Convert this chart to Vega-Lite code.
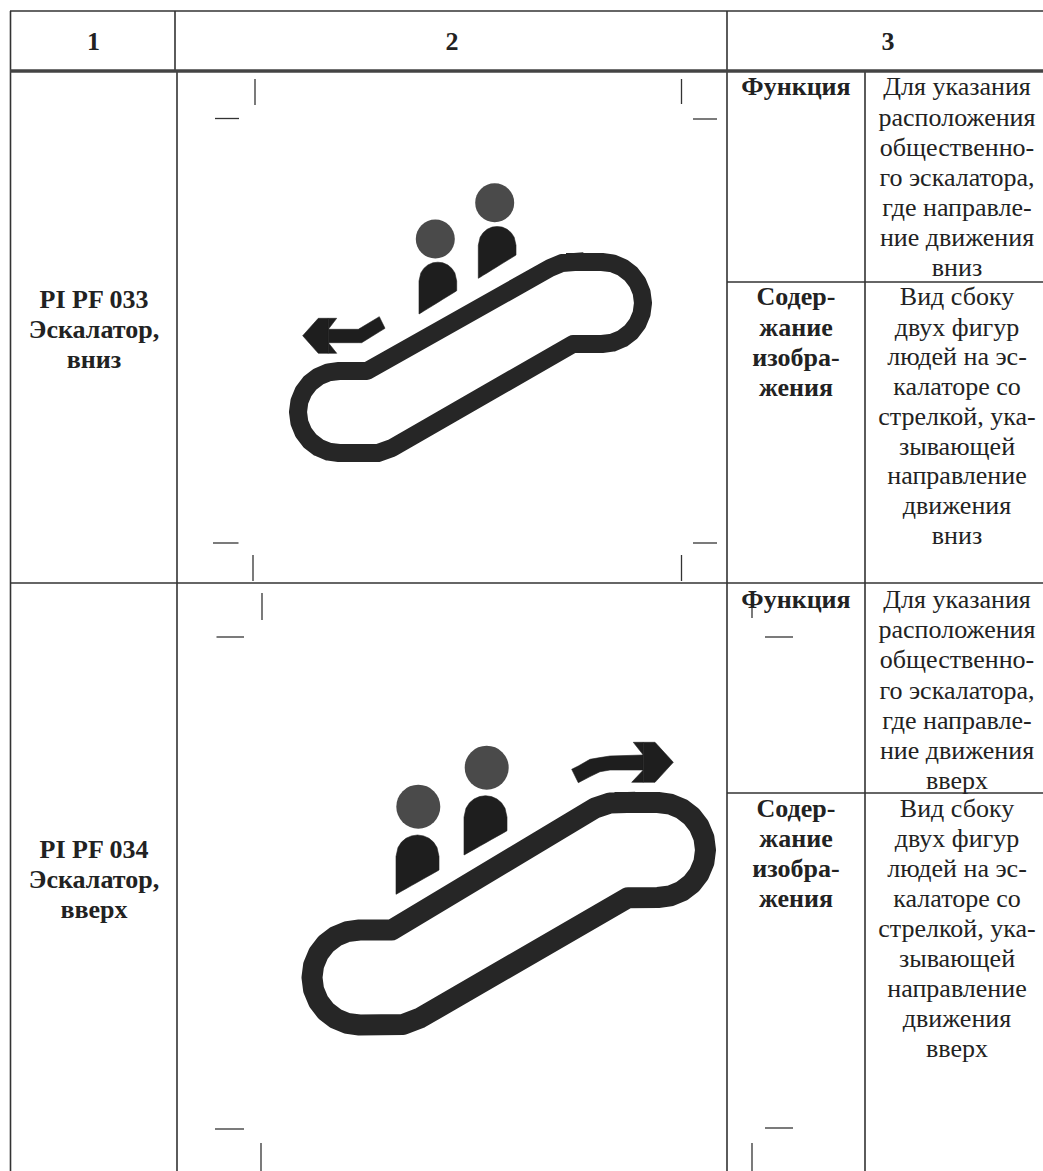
{"$schema":"https://vega.github.io/schema/vega-lite/v6.json","width":1043,"height":1171,"autosize":"none","padding":0,"background":"white","view":{"stroke":null},
"datasets":{
"grid":[{"x":10,"y":11,"x2":1043,"y2":11},{"x":10.5,"y":11,"x2":10.5,"y2":1171},{"x":175,"y":11,"x2":175,"y2":70},{"x":177,"y":71,"x2":177,"y2":1171},{"x":727,"y":11,"x2":727,"y2":1171},{"x":865,"y":71,"x2":865,"y2":1171},{"x":10,"y":583,"x2":1043,"y2":583},{"x":727,"y":282,"x2":1043,"y2":282},{"x":727,"y":793,"x2":1043,"y2":793}],
"thick":[{"x":10,"y":71,"x2":1043,"y2":71}],
"crop":[{"x":255,"y":79,"x2":255,"y2":105},{"x":215,"y":118.5,"x2":239,"y2":118.5},{"x":681.5,"y":79,"x2":681.5,"y2":104},{"x":693,"y":119,"x2":717,"y2":119},{"x":213,"y":543,"x2":238.5,"y2":543},{"x":253,"y":555,"x2":253,"y2":581},{"x":693,"y":543,"x2":717,"y2":543},{"x":681.5,"y":555,"x2":681.5,"y2":581},{"x":262,"y":593,"x2":262,"y2":620},{"x":216.5,"y":637,"x2":244,"y2":637},{"x":752,"y":593,"x2":752,"y2":618},{"x":765,"y":637,"x2":793,"y2":637},{"x":215,"y":1129,"x2":244,"y2":1129},{"x":261,"y":1143,"x2":261,"y2":1171},{"x":765,"y":1128,"x2":793,"y2":1128},{"x":752,"y":1143,"x2":752,"y2":1171}],
"loop1":[{"o":1,"x":575,"y":262},{"o":2,"x":602,"y":262},{"o":3,"x":612.6,"y":263.4},{"o":4,"x":622.5,"y":267.5},{"o":5,"x":631,"y":274},{"o":6,"x":637.5,"y":282.5},{"o":7,"x":641.6,"y":292.4},{"o":8,"x":643,"y":303},{"o":9,"x":641.6,"y":313.6},{"o":10,"x":637.5,"y":323.5},{"o":11,"x":631,"y":332},{"o":12,"x":622.5,"y":338.5},{"o":13,"x":612.6,"y":342.6},{"o":14,"x":602,"y":344},{"o":15,"x":573,"y":344},{"o":16,"x":392,"y":448},{"o":17,"x":378,"y":453},{"o":18,"x":339,"y":453},{"o":19,"x":328.4,"y":451.6},{"o":20,"x":318.5,"y":447.5},{"o":21,"x":310,"y":441},{"o":22,"x":303.5,"y":432.5},{"o":23,"x":299.4,"y":422.6},{"o":24,"x":298,"y":412},{"o":25,"x":299.4,"y":401.4},{"o":26,"x":303.5,"y":391.5},{"o":27,"x":310,"y":383},{"o":28,"x":318.5,"y":376.5},{"o":29,"x":328.4,"y":372.4},{"o":30,"x":339,"y":371},{"o":31,"x":367,"y":371},{"o":32,"x":550,"y":268},{"o":33,"x":562,"y":263},{"o":34,"x":575,"y":262}],
"loop2":[{"o":1,"x":625,"y":802.5},{"o":2,"x":658,"y":802.5},{"o":3,"x":670.3,"y":804.1},{"o":4,"x":681.8,"y":808.9},{"o":5,"x":691.6,"y":816.4},{"o":6,"x":699.1,"y":826.2},{"o":7,"x":703.9,"y":837.7},{"o":8,"x":705.5,"y":850},{"o":9,"x":703.9,"y":862.3},{"o":10,"x":699.1,"y":873.8},{"o":11,"x":691.6,"y":883.6},{"o":12,"x":681.8,"y":891.1},{"o":13,"x":670.3,"y":895.9},{"o":14,"x":658,"y":897.5},{"o":15,"x":628,"y":897.7},{"o":16,"x":420,"y":1018},{"o":17,"x":403,"y":1024.5},{"o":18,"x":359.5,"y":1025},{"o":19,"x":347.2,"y":1023.4},{"o":20,"x":335.7,"y":1018.6},{"o":21,"x":325.9,"y":1011.1},{"o":22,"x":318.4,"y":1001.3},{"o":23,"x":313.6,"y":989.8},{"o":24,"x":312,"y":977.5},{"o":25,"x":313.6,"y":965.2},{"o":26,"x":318.4,"y":953.7},{"o":27,"x":325.9,"y":943.9},{"o":28,"x":335.7,"y":936.4},{"o":29,"x":347.2,"y":931.6},{"o":30,"x":359.5,"y":930},{"o":31,"x":391.7,"y":930},{"o":32,"x":595,"y":808},{"o":33,"x":610,"y":803},{"o":34,"x":625,"y":802.5}],
"heads1":[{"x":435.3,"y":239},{"x":494.7,"y":202.7}],
"heads2":[{"x":418.3,"y":806.7},{"x":486.7,"y":767.7}],
"shapes":[
{"p":"b1","x":419,"y":281,"y2":314},{"p":"b1","x":420.85,"y":272.9,"y2":312.9},{"p":"b1","x":423.85,"y":268.4,"y2":311},{"p":"b1","x":427.85,"y":265,"y2":308.6},{"p":"b1","x":432.85,"y":262.8,"y2":305.5},{"p":"b1","x":437.85,"y":262.2,"y2":302.4},{"p":"b1","x":442.85,"y":262.8,"y2":299.3},{"p":"b1","x":447.85,"y":265,"y2":296.2},{"p":"b1","x":451.85,"y":268.4,"y2":293.8},{"p":"b1","x":454.85,"y":272.9,"y2":291.9},{"p":"b1","x":456.7,"y":281,"y2":290.7},
{"p":"b2","x":478.3,"y":245.3,"y2":278.3},{"p":"b2","x":480.15,"y":237.2,"y2":277.2},{"p":"b2","x":483.15,"y":232.7,"y2":275.3},{"p":"b2","x":487.15,"y":229.3,"y2":272.9},{"p":"b2","x":492.15,"y":227.1,"y2":269.8},{"p":"b2","x":497.15,"y":226.5,"y2":266.7},{"p":"b2","x":502.15,"y":227.1,"y2":263.6},{"p":"b2","x":507.15,"y":229.3,"y2":260.5},{"p":"b2","x":511.15,"y":232.7,"y2":258.1},{"p":"b2","x":514.15,"y":237.2,"y2":256.2},{"p":"b2","x":516,"y":245.3,"y2":255},
{"p":"b3","x":396,"y":856.5,"y2":894.3},{"p":"b3","x":398,"y":847.5,"y2":893.2},{"p":"b3","x":401.5,"y":842.1,"y2":891.2},{"p":"b3","x":406,"y":838.3,"y2":888.7},{"p":"b3","x":411.5,"y":835.9,"y2":885.6},{"p":"b3","x":417.5,"y":835,"y2":882.2},{"p":"b3","x":423.5,"y":835.9,"y2":878.8},{"p":"b3","x":429,"y":838.3,"y2":875.7},{"p":"b3","x":433.5,"y":842.1,"y2":873.2},{"p":"b3","x":437,"y":847.5,"y2":871.2},{"p":"b3","x":439,"y":856.5,"y2":870},
{"p":"b4","x":464,"y":817.2,"y2":855},{"p":"b4","x":466,"y":808.2,"y2":853.9},{"p":"b4","x":469.5,"y":802.8,"y2":851.9},{"p":"b4","x":474,"y":799,"y2":849.4},{"p":"b4","x":479.5,"y":796.6,"y2":846.3},{"p":"b4","x":485.5,"y":795.7,"y2":842.9},{"p":"b4","x":491.5,"y":796.6,"y2":839.5},{"p":"b4","x":497,"y":799,"y2":836.4},{"p":"b4","x":501.5,"y":802.8,"y2":833.9},{"p":"b4","x":505,"y":808.2,"y2":831.9},{"p":"b4","x":507,"y":817.2,"y2":830.7},
{"p":"a1head","x":302.7,"y":335.7,"y2":335.7},{"p":"a1head","x":318.3,"y":318.3,"y2":353.3},{"p":"a1head","x":328.3,"y":318.3,"y2":353.3},
{"p":"a1top","x":328.3,"y":318.3,"y2":329.3},{"p":"a1top","x":336.7,"y":318.3,"y2":318.3},
{"p":"a1bot","x":328.3,"y":342.7,"y2":353.3},{"p":"a1bot","x":336.7,"y":353.3,"y2":353.3},
{"p":"a1shaft","x":328.3,"y":329.3,"y2":342.7},{"p":"a1shaft","x":358.3,"y":329.3,"y2":342.7},{"p":"a1shaft","x":361.7,"y":327.3,"y2":342.7},{"p":"a1shaft","x":379.3,"y":316.7,"y2":331.8},{"p":"a1shaft","x":385,"y":328.3,"y2":328.3},
{"p":"a2shaft","x":571.7,"y":769.3,"y2":769.3},{"p":"a2shaft","x":578.3,"y":766,"y2":782.7},{"p":"a2shaft","x":590,"y":759.3,"y2":776.6},{"p":"a2shaft","x":600,"y":757.6,"y2":771.7},{"p":"a2shaft","x":610,"y":756,"y2":770},{"p":"a2shaft","x":643.3,"y":755,"y2":770},
{"p":"a2top","x":633.3,"y":742.3,"y2":742.3},{"p":"a2top","x":643.3,"y":742.3,"y2":755},
{"p":"a2bot","x":631.7,"y":782.3,"y2":782.3},{"p":"a2bot","x":643.3,"y":770,"y2":782.3},
{"p":"a2head","x":643.3,"y":742.3,"y2":782.3},{"p":"a2head","x":655,"y":742.3,"y2":782.3},{"p":"a2head","x":673.3,"y":762.3,"y2":762.3}
],
"bold":[{"x":93.5,"y":42,"t":"1"},{"x":452,"y":42,"t":"2"},{"x":888,"y":42,"t":"3"},
{"x":94,"y":299.5,"t":"PI PF 033"},{"x":94,"y":330,"t":"Эскалатор,"},{"x":94,"y":360,"t":"вниз"},
{"x":94,"y":849.5,"t":"PI PF 034"},{"x":94,"y":880,"t":"Эскалатор,"},{"x":94,"y":910,"t":"вверх"},
{"x":796,"y":87,"t":"Функция"},{"x":796,"y":297,"t":"Содер-"},{"x":796,"y":328,"t":"жание"},{"x":796,"y":358,"t":"изобра-"},{"x":796,"y":388,"t":"жения"},
{"x":796,"y":600,"t":"Функция"},{"x":796,"y":809,"t":"Содер-"},{"x":796,"y":839,"t":"жание"},{"x":796,"y":869,"t":"изобра-"},{"x":796,"y":899,"t":"жения"}],
"regular":[{"x":957,"y":87,"t":"Для указания"},{"x":957,"y":117.5,"t":"расположения"},{"x":957,"y":148,"t":"общественно-"},{"x":957,"y":178,"t":"го эскалатора,"},{"x":957,"y":208,"t":"где направле-"},{"x":957,"y":238,"t":"ние движения"},{"x":957,"y":268,"t":"вниз"},
{"x":957,"y":297,"t":"Вид сбоку"},{"x":957,"y":328,"t":"двух фигур"},{"x":957,"y":357,"t":"людей на эс-"},{"x":957,"y":387,"t":"калаторе со"},{"x":957,"y":417,"t":"стрелкой, ука-"},{"x":957,"y":447,"t":"зывающей"},{"x":957,"y":476,"t":"направление"},{"x":957,"y":506,"t":"движения"},{"x":957,"y":536,"t":"вниз"},
{"x":957,"y":600,"t":"Для указания"},{"x":957,"y":630,"t":"расположения"},{"x":957,"y":660,"t":"общественно-"},{"x":957,"y":691,"t":"го эскалатора,"},{"x":957,"y":721,"t":"где направле-"},{"x":957,"y":751,"t":"ние движения"},{"x":957,"y":781,"t":"вверх"},
{"x":957,"y":809,"t":"Вид сбоку"},{"x":957,"y":839,"t":"двух фигур"},{"x":957,"y":869,"t":"людей на эс-"},{"x":957,"y":899,"t":"калаторе со"},{"x":957,"y":929,"t":"стрелкой, ука-"},{"x":957,"y":959,"t":"зывающей"},{"x":957,"y":989,"t":"направление"},{"x":957,"y":1019,"t":"движения"},{"x":957,"y":1049,"t":"вверх"}]
},
"encoding":{
"x":{"field":"x","type":"quantitative","axis":null,"scale":{"domain":[0,1043],"nice":false,"zero":false}},
"y":{"field":"y","type":"quantitative","axis":null,"scale":{"domain":[0,1171],"reverse":true,"nice":false,"zero":false}}
},
"layer":[
{"data":{"name":"grid"},"mark":{"type":"rule","color":"#333333","strokeWidth":1.6},"encoding":{"x2":{"field":"x2"},"y2":{"field":"y2"}}},
{"data":{"name":"thick"},"mark":{"type":"rule","color":"#444444","strokeWidth":3.5},"encoding":{"x2":{"field":"x2"},"y2":{"field":"y2"}}},
{"data":{"name":"crop"},"mark":{"type":"rule","color":"#333333","strokeWidth":1.3},"encoding":{"x2":{"field":"x2"},"y2":{"field":"y2"}}},
{"data":{"name":"loop1"},"mark":{"type":"line","color":"#262626","strokeWidth":18,"strokeJoin":"round","strokeCap":"square"},"encoding":{"order":{"field":"o","type":"quantitative"}}},
{"data":{"name":"loop2"},"mark":{"type":"line","color":"#262626","strokeWidth":21,"strokeJoin":"round","strokeCap":"square"},"encoding":{"order":{"field":"o","type":"quantitative"}}},
{"data":{"name":"heads1"},"mark":{"type":"point","shape":"circle","filled":true,"opacity":1,"color":"#4a4a4a","size":1521}},
{"data":{"name":"heads2"},"mark":{"type":"point","shape":"circle","filled":true,"opacity":1,"color":"#4a4a4a","size":1936}},
{"data":{"name":"shapes"},"mark":{"type":"area","color":"#1e1e1e","opacity":1,"stroke":"#1e1e1e","strokeWidth":0.6},"encoding":{"y2":{"field":"y2"},"detail":{"field":"p","type":"nominal"}}},
{"data":{"name":"bold"},"mark":{"type":"text","font":"Liberation Serif","fontSize":26,"fontWeight":"bold","color":"#222222","align":"center","baseline":"middle"},"encoding":{"text":{"field":"t"}}},
{"data":{"name":"regular"},"mark":{"type":"text","font":"Liberation Serif","fontSize":26,"color":"#222222","align":"center","baseline":"middle"},"encoding":{"text":{"field":"t"}}}
]}
